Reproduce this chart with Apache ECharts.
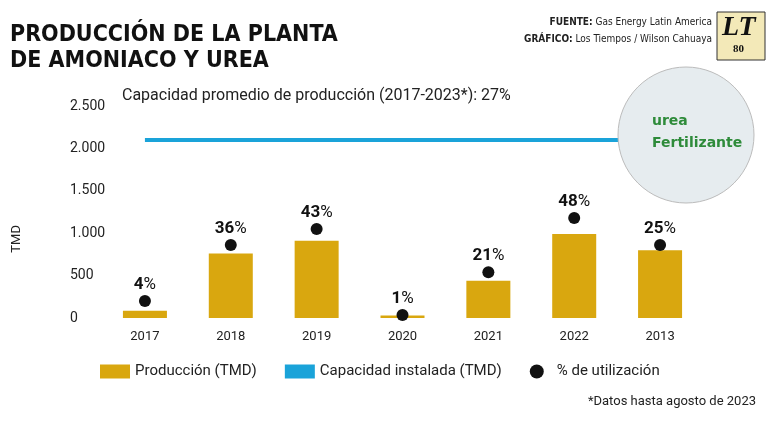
<!DOCTYPE html>
<html>
<head>
<meta charset="utf-8">
<script src="https://cdn.jsdelivr.net/npm/echarts@6/dist/echarts.min.js"></script>
<style>
html, body { margin: 0; padding: 0; background: #fff; }
#chart { width: 770px; height: 430px; }
</style>
</head>
<body>
<div id="chart"></div>
<script>
// datos
var years = ['2017', '2018', '2019', '2020', '2021', '2022', '2013'];
var produccion = [85, 760, 910, 30, 440, 990, 800];
var capacidad = [2100, 2100, 2100, 2100, 2100, 2100, 2100];
var utilizacionPos = [200, 860, 1050, 35, 540, 1180, 860];
var utilizacionPct = [4, 36, 43, 1, 21, 48, 25];
var yTicks = ['0', '500', '1.000', '1.500', '2.000', '2.500'];

var font = 'Roboto';
var chart = echarts.init(document.getElementById('chart'));

var dotData = [];
for (var i = 0; i < years.length; i++) {
	dotData.push({ value: utilizacionPos[i], pct: utilizacionPct[i] });
}

var bold = { fontWeight: 'bold', fontFamily: 'DejaVu Sans Condensed', fontSize: 10 };

var option = {
	animation: false,
	textStyle: { fontFamily: font },
	grid: { left: 102, right: 67, top: 106, bottom: 112 },
	legend: {
		bottom: 46, left: 95, itemGap: 28, itemWidth: 30, itemHeight: 14,
		textStyle: { fontSize: 15, color: '#222' },
		data: [
			{ name: 'Producción (TMD)', icon: 'rect' },
			{ name: 'Capacidad instalada (TMD)', icon: 'rect', itemStyle: { color: '#1aa3d9' } },
			{ name: '% de utilización', icon: 'circle' }
		]
	},
	xAxis: {
		type: 'category', data: years,
		axisLine: { show: false }, axisTick: { show: false },
		axisLabel: { color: '#222', fontSize: 13, margin: 12 }
	},
	yAxis: {
		type: 'value', min: 0, max: 2500, interval: 500,
		splitLine: { show: false },
		axisLabel: {
			color: '#222', fontSize: 14, margin: 32, align: 'left',
			formatter: function (v) { return yTicks[v / 500]; }
		}
	},
	series: [
		{
			name: 'Producción (TMD)', type: 'bar', data: produccion, barWidth: 44,
			itemStyle: { color: '#d9a70f' }
		},
		{
			name: 'Capacidad instalada (TMD)', type: 'line', data: capacidad,
			symbol: 'none', lineStyle: { color: '#1aa3d9', width: 4 }, z: 3
		},
		{
			name: '% de utilización', type: 'scatter', data: dotData,
			symbolSize: 12, itemStyle: { color: '#111', opacity: 1 }, z: 4,
			label: {
				show: true, position: 'top', distance: 2, color: '#111',
				formatter: function (p) { return '{b|' + p.data.pct + '}{n|%}'; },
				rich: {
					b: { fontSize: 17, fontWeight: 'bold', color: '#111', fontFamily: font },
					n: { fontSize: 17, color: '#111', fontFamily: font }
				}
			}
		}
	],
	graphic: [
		{ type: 'text', left: 10, top: 22, style: { text: 'PRODUCCIÓN DE LA PLANTA\nDE AMONIACO Y UREA', font: 'bold 23px "DejaVu Sans Condensed"', fill: '#111', lineHeight: 26 } },
		{ type: 'text', right: 58, top: 17, style: { text: '{b|FUENTE:} Gas Energy Latin America', font: '10px "DejaVu Sans Condensed"', fill: '#222', rich: { b: bold } } },
		{ type: 'text', right: 58, top: 34, style: { text: '{b|GRÁFICO:} Los Tiempos / Wilson Cahuaya', font: '10px "DejaVu Sans Condensed"', fill: '#222', rich: { b: bold } } },
		{ type: 'rect', shape: { x: 717, y: 12, width: 48, height: 48 }, style: { fill: '#f3e9b8', stroke: '#333', lineWidth: 1 } },
		{ type: 'text', left: 722, top: 14, style: { text: 'LT', font: 'bold italic 28px "Liberation Serif"', fill: '#111' } },
		{ type: 'text', left: 733, top: 44, style: { text: '80', font: 'bold 11px "Liberation Serif"', fill: '#111' } },
		{ type: 'circle', shape: { cx: 686, cy: 135, r: 68 }, style: { fill: '#e6ecef', stroke: '#bbb', lineWidth: 1 }, z: 10 },
		{ type: 'text', left: 652, top: 110, z: 11, style: { text: 'urea\nFertilizante', font: 'bold 14px "DejaVu Sans"', fill: '#2e8b3a', lineHeight: 22 } },
		{ type: 'text', left: 122, top: 88, style: { text: 'Capacidad promedio de producción (2017-2023*): 27%', font: '16px Roboto', fill: '#222' } },
		{ type: 'text', left: 10, top: 225, rotation: Math.PI / 2, style: { text: 'TMD', font: '13px Roboto', fill: '#222' } },
		{ type: 'text', right: 14, top: 395, style: { text: '*Datos hasta agosto de 2023', font: '13px Roboto', fill: '#222' } }
	]
};
chart.setOption(option);
</script>
</body>
</html>
